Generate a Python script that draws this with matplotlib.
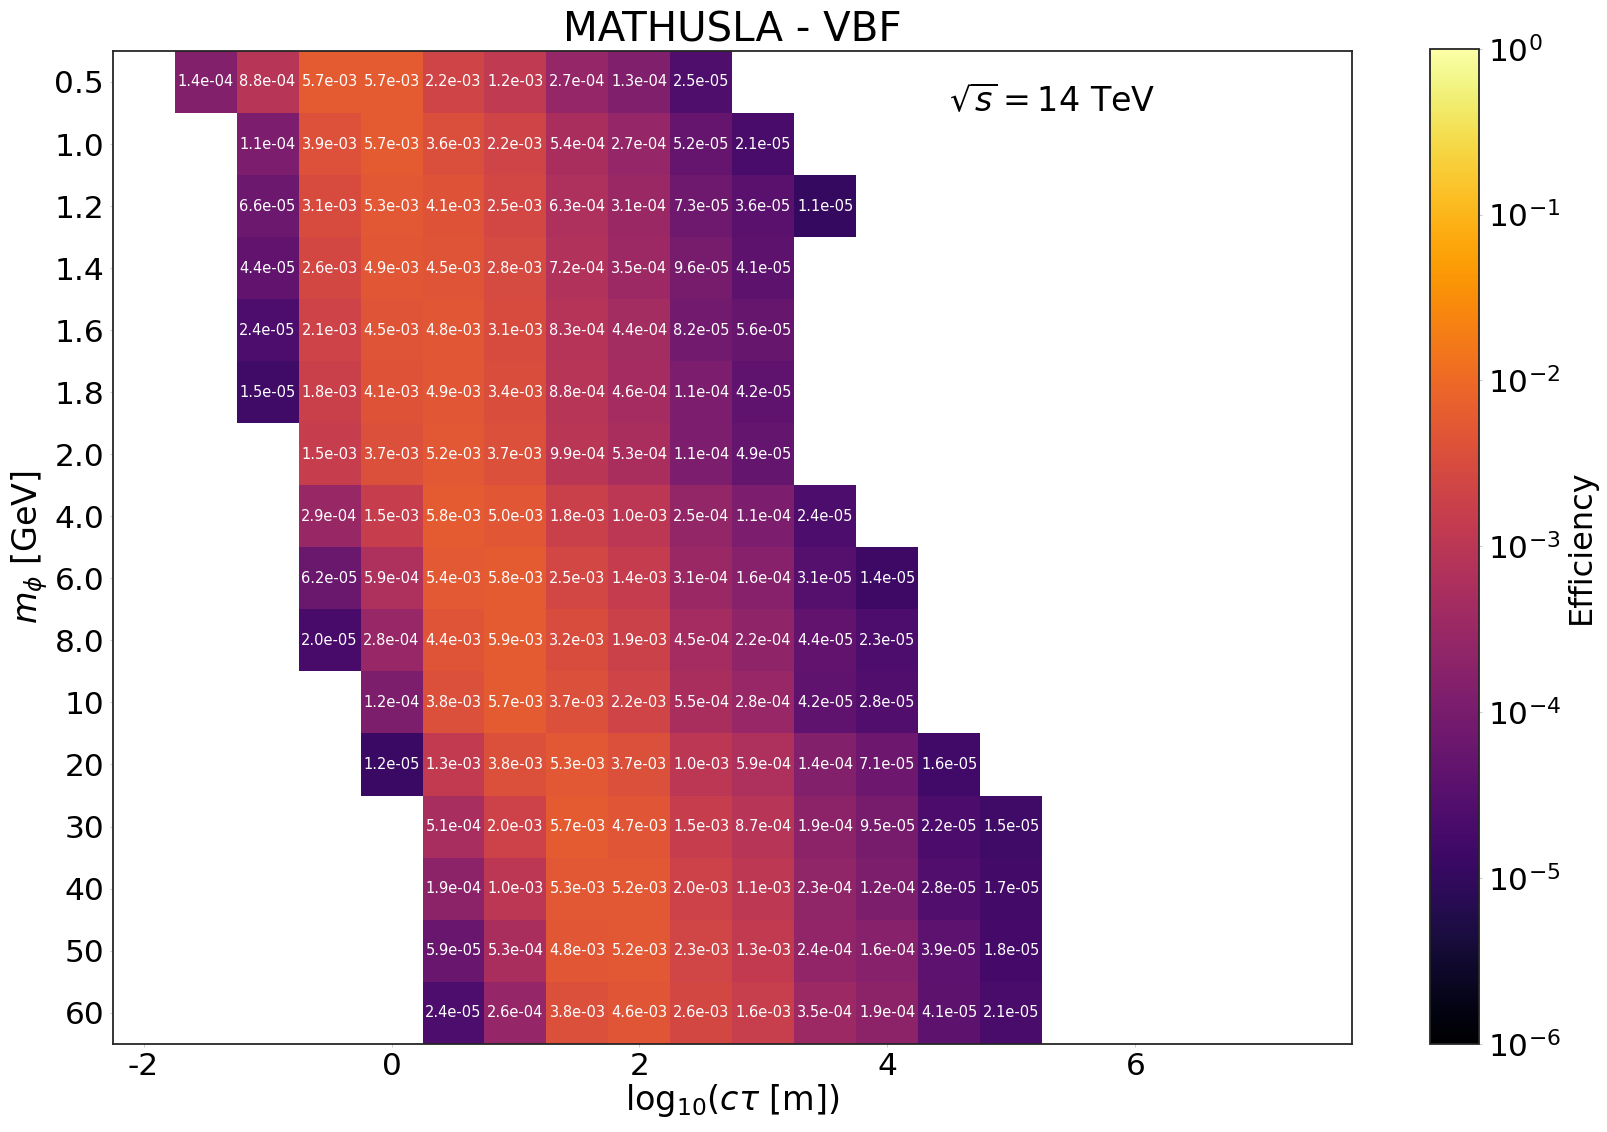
import numpy as np
import matplotlib
matplotlib.use("Agg")
import matplotlib.pyplot as plt
from matplotlib.colors import LogNorm

# masses (row labels, top to bottom)
masses = ["0.5", "1.0", "1.2", "1.4", "1.6", "1.8", "2.0", "4.0", "6.0", "8.0",
          "10", "20", "30", "40", "50", "60"]

# log10(ctau [m]) of the first filled cell in each row
row_start = [-1.5, -1.0, -1.0, -1.0, -1.0, -1.0, -0.5, -0.5, -0.5, -0.5,
             0.0, 0.0, 0.5, 0.5, 0.5, 0.5]

# efficiencies per row, from row_start in steps of 0.5
eff_05 = [1.4e-4, 8.8e-4, 5.7e-3, 5.7e-3, 2.2e-3, 1.2e-3, 2.7e-4, 1.3e-4, 2.5e-5]
eff_10 = [1.1e-4, 3.9e-3, 5.7e-3, 3.6e-3, 2.2e-3, 5.4e-4, 2.7e-4, 5.2e-5, 2.1e-5]
eff_12 = [6.6e-5, 3.1e-3, 5.3e-3, 4.1e-3, 2.5e-3, 6.3e-4, 3.1e-4, 7.3e-5, 3.6e-5, 1.1e-5]
eff_14 = [4.4e-5, 2.6e-3, 4.9e-3, 4.5e-3, 2.8e-3, 7.2e-4, 3.5e-4, 9.6e-5, 4.1e-5]
eff_16 = [2.4e-5, 2.1e-3, 4.5e-3, 4.8e-3, 3.1e-3, 8.3e-4, 4.4e-4, 8.2e-5, 5.6e-5]
eff_18 = [1.5e-5, 1.8e-3, 4.1e-3, 4.9e-3, 3.4e-3, 8.8e-4, 4.6e-4, 1.1e-4, 4.2e-5]
eff_20 = [1.5e-3, 3.7e-3, 5.2e-3, 3.7e-3, 9.9e-4, 5.3e-4, 1.1e-4, 4.9e-5]
eff_40 = [2.9e-4, 1.5e-3, 5.8e-3, 5.0e-3, 1.8e-3, 1.0e-3, 2.5e-4, 1.1e-4, 2.4e-5]
eff_60 = [6.2e-5, 5.9e-4, 5.4e-3, 5.8e-3, 2.5e-3, 1.4e-3, 3.1e-4, 1.6e-4, 3.1e-5, 1.4e-5]
eff_80 = [2.0e-5, 2.8e-4, 4.4e-3, 5.9e-3, 3.2e-3, 1.9e-3, 4.5e-4, 2.2e-4, 4.4e-5, 2.3e-5]
eff_m10 = [1.2e-4, 3.8e-3, 5.7e-3, 3.7e-3, 2.2e-3, 5.5e-4, 2.8e-4, 4.2e-5, 2.8e-5]
eff_m20 = [1.2e-5, 1.3e-3, 3.8e-3, 5.3e-3, 3.7e-3, 1.0e-3, 5.9e-4, 1.4e-4, 7.1e-5, 1.6e-5]
eff_m30 = [5.1e-4, 2.0e-3, 5.7e-3, 4.7e-3, 1.5e-3, 8.7e-4, 1.9e-4, 9.5e-5, 2.2e-5, 1.5e-5]
eff_m40 = [1.9e-4, 1.0e-3, 5.3e-3, 5.2e-3, 2.0e-3, 1.1e-3, 2.3e-4, 1.2e-4, 2.8e-5, 1.7e-5]
eff_m50 = [5.9e-5, 5.3e-4, 4.8e-3, 5.2e-3, 2.3e-3, 1.3e-3, 2.4e-4, 1.6e-4, 3.9e-5, 1.8e-5]
eff_m60 = [2.4e-5, 2.6e-4, 3.8e-3, 4.6e-3, 2.6e-3, 1.6e-3, 3.5e-4, 1.9e-4, 4.1e-5, 2.1e-5]

rows = [eff_05, eff_10, eff_12, eff_14, eff_16, eff_18, eff_20, eff_40, eff_60,
        eff_80, eff_m10, eff_m20, eff_m30, eff_m40, eff_m50, eff_m60]

# grid of log10(ctau) bin centres
ctau = np.arange(-1.5, 5.01, 0.5)
Z = np.full((len(masses), len(ctau)), np.nan)
for i, (x0, vals) in enumerate(zip(row_start, rows)):
    j0 = int(round((x0 - ctau[0]) / 0.5))
    Z[i, j0:j0 + len(vals)] = vals

x_edges = np.append(ctau - 0.25, ctau[-1] + 0.25)
y_edges = np.arange(len(masses) + 1) - 0.5

fig = plt.figure(figsize=(16.08, 11.32), dpi=100)
ax = fig.add_axes([0.070, 0.078, 0.771, 0.877])
cax = fig.add_axes([0.889, 0.078, 0.031, 0.879])

norm = LogNorm(vmin=1e-6, vmax=1)
mesh = ax.pcolormesh(x_edges, y_edges, np.ma.masked_invalid(Z), cmap="inferno", norm=norm)

for i in range(len(masses)):
    for j in range(len(ctau)):
        if not np.isnan(Z[i, j]):
            ax.text(ctau[j], i, f"{Z[i, j]:.1e}", ha="center", va="center",
                    color="white", fontsize=10.5)

ax.set_xlim(-2.25, 7.75)
ax.set_ylim(len(masses) - 0.5, -0.5)
ax.set_yticks(np.arange(len(masses)))
ax.set_yticklabels(masses)
ax.set_xticks([-2, 0, 2, 4, 6])
ax.set_xticklabels(["-2", "0", "2", "4", "6"])
ax.tick_params(labelsize=22.5, length=2, color="#cccccc", pad=4)
for s in ax.spines.values():
    s.set_color("#262626")
    s.set_linewidth(1.3)

ax.set_title("MATHUSLA - VBF", fontsize=29, pad=6)
ax.set_xlabel(r"log$_{10}$($c\tau$ [m])", fontsize=24, labelpad=1)
ax.set_ylabel(r"$m_\phi$ [GeV]", fontsize=24, labelpad=3)
ax.text(0.675, 0.949, r"$\sqrt{s} = 14$ TeV", transform=ax.transAxes,
        fontsize=24, ha="left", va="center")

cb = fig.colorbar(mesh, cax=cax)
cb.ax.minorticks_off()
cb.ax.tick_params(labelsize=22.5, length=2, color="#cccccc", pad=4)
cb.outline.set_edgecolor("#262626")
cb.outline.set_linewidth(1.3)
cb.set_label("Efficiency", fontsize=23)

fig.savefig("out.png", dpi=100)
